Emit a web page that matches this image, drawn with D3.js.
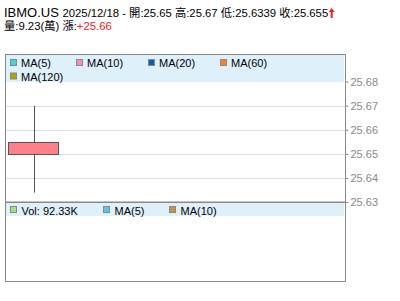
<!DOCTYPE html>
<html lang="zh-Hant">
<head>
<meta charset="utf-8">
<script src="https://cdn.jsdelivr.net/npm/d3@7"></script>
<style>
  html, body { margin: 0; padding: 0; background: #fff; }
  svg { display: block; font-family: "Liberation Sans", Arial, "Noto Sans CJK TC", sans-serif; }
</style>
</head>
<body>
<svg id="chart" width="400" height="301"></svg>
<script>
// one trading day
const symbol = 'IBMO.US';
const dates = ['2025/12/18'];
const opens = [25.65];
const highs = [25.67];
const lows = [25.6339];
const closes = [25.655];
const volumes = [92330];
const change = ['+25.66'];
const priceTicks = [25.63, 25.64, 25.65, 25.66, 25.67, 25.68];
const maLegend = ['MA(5)', 'MA(10)', 'MA(20)', 'MA(60)', 'MA(120)'];
const maColors = ['#44d3d0', '#ff8ab8', '#0062b4', '#ff8022', '#b4a400'];
const volLegend = ['Vol: 92.33K', 'MA(5)', 'MA(10)'];
const volColors = ['#a4e088', '#55c4f0', '#c89444'];

const svg = d3.select('#chart');
const left = 5.5, right = 345.5;
const mainTop = 54.5, mainBottom = 202;
const volTop = 203, volBottom = 281.5;
const slotW = 56;

const y = d3.scaleLinear().domain([25.63, 25.68]).range([mainBottom, 81.5]);
const x = d3.scaleLinear()
  .domain([-0.5, (right - left) / slotW - 0.5])
  .range([left, right]);

// title
const t1 = svg.append('text').attr('x', 4).attr('y', 17).attr('fill', '#000');
t1.append('tspan').attr('font-size', 13).text(symbol + ' ');
t1.append('tspan').attr('font-size', 11.3)
  .text(dates[0] + ' - 開:' + opens[0] + ' 高:' + highs[0] + ' 低:' + lows[0] + ' 收:' + closes[0]);

// up arrow after the close price
const ax = 4 + t1.node().getComputedTextLength() + 3.5;
svg.append('path')
  .attr('d', `M${ax},8 L${ax + 3},12 L${ax + 1},12 L${ax + 1},18 L${ax - 1},18 L${ax - 1},12 L${ax - 3},12 Z`)
  .attr('fill', closes[0] >= opens[0] ? '#f02020' : '#20a020');

const t2 = svg.append('text').attr('x', 4).attr('y', 30).attr('font-size', 11.3).attr('fill', '#000');
t2.append('tspan').text('量:' + (volumes[0] / 10000).toFixed(2) + '(萬) 漲:');
t2.append('tspan').attr('fill', '#f02020').text(change[0]);

// main panel
svg.append('g')
  .selectAll('line')
  .data(priceTicks.slice(0, -1))
  .join('line')
  .attr('x1', left).attr('x2', right)
  .attr('y1', d => Math.round(y(d)) + 0.5).attr('y2', d => Math.round(y(d)) + 0.5)
  .attr('stroke', '#dcdcdc');

svg.append('rect')
  .attr('x', left + 0.5).attr('y', mainTop + 0.5)
  .attr('width', right - left - 2).attr('height', 27)
  .attr('fill', '#def0fa');

const yAxis = svg.append('g')
  .attr('transform', `translate(${right},0)`)
  .call(d3.axisRight(y).tickValues(priceTicks).tickFormat(d3.format('.2f')).tickSize(3).tickPadding(2));
yAxis.select('.domain').remove();
yAxis.selectAll('line').attr('stroke', '#888');
yAxis.selectAll('text').attr('fill', '#888').attr('font-size', 11)
  .attr('font-family', '"Liberation Sans", Arial, sans-serif');

// candles
const candles = svg.append('g').selectAll('g').data(dates).join('g');
candles.append('line')
  .attr('x1', (d, i) => Math.round(x(i)) + 0.5).attr('x2', (d, i) => Math.round(x(i)) + 0.5)
  .attr('y1', (d, i) => y(highs[i])).attr('y2', (d, i) => y(lows[i]))
  .attr('stroke', '#555');
candles.append('rect')
  .attr('x', (d, i) => Math.round(x(i) - slotW * 0.45) + 0.5)
  .attr('width', Math.round(slotW * 0.9))
  .attr('y', (d, i) => Math.round(y(Math.max(opens[i], closes[i]))) + 0.5)
  .attr('height', (d, i) => Math.round(Math.abs(y(opens[i]) - y(closes[i]))))
  .attr('fill', (d, i) => closes[i] >= opens[i] ? '#ff8088' : '#4cb050')
  .attr('stroke', '#555');

svg.append('rect')
  .attr('x', left).attr('y', mainTop)
  .attr('width', right - left).attr('height', mainBottom - mainTop)
  .attr('fill', 'none').attr('stroke', '#888');

// main legend
const maPos = [[10, 59], [76, 59], [148, 59], [220, 59], [10, 72.5]];
const ml = svg.append('g').selectAll('g').data(maLegend).join('g')
  .attr('transform', (d, i) => `translate(${maPos[i][0]},${maPos[i][1]})`);
ml.append('rect').attr('x', 0.5).attr('y', 0.5).attr('width', 6).attr('height', 6)
  .attr('fill', (d, i) => maColors[i]).attr('stroke', '#888');
ml.append('text').attr('x', 11).attr('y', 8).attr('font-size', 11).attr('fill', '#000').text(d => d);

// volume panel
svg.append('rect')
  .attr('x', left + 0.5).attr('y', volTop)
  .attr('width', right - left - 2).attr('height', 13)
  .attr('fill', '#def0fa');
svg.append('rect')
  .attr('x', left).attr('y', volTop - 0.5)
  .attr('width', right - left).attr('height', volBottom - volTop + 0.5)
  .attr('fill', 'none').attr('stroke', '#888');

const volX = [10.5, 103.5, 169.5];
const vl = svg.append('g').selectAll('g').data(volLegend).join('g')
  .attr('transform', (d, i) => `translate(${volX[i]},206.5)`);
vl.append('rect').attr('x', 0).attr('y', 0).attr('width', 6).attr('height', 6)
  .attr('fill', (d, i) => volColors[i]).attr('stroke', '#888');
vl.append('text').attr('x', 11).attr('y', 8).attr('font-size', 11).attr('fill', '#000').text(d => d);
</script>
</body>
</html>
